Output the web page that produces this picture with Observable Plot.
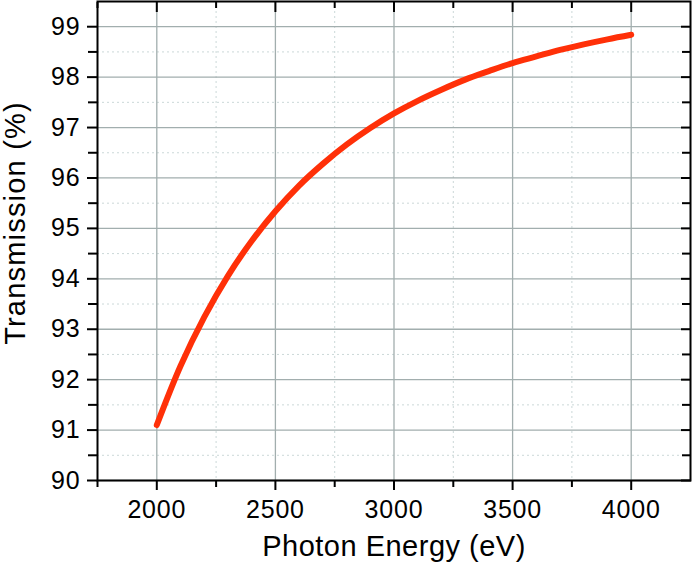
<!DOCTYPE html>
<html>
<head>
<meta charset="utf-8">
<script src="https://cdn.jsdelivr.net/npm/d3@7"></script>
<script src="https://cdn.jsdelivr.net/npm/@observablehq/plot@0.6"></script>
<style>
  html, body { margin: 0; padding: 0; background: #fff; }
  svg { display: block; }
  g[aria-label="x-axis tick label"] text, g[aria-label="y-axis tick label"] text { letter-spacing: 0.8px; }
  .xtitle text { letter-spacing: 0.5px; }
  .ytitle text { letter-spacing: 1.2px; }
</style>
</head>
<body>
<div id="chart"></div>
<script>
// Data
const energy = [2000, 2100, 2200, 2300, 2400, 2500, 2600, 2700, 2800, 2900, 3000,
                3100, 3200, 3300, 3400, 3500, 3600, 3700, 3800, 3900, 4000];
const transmission = [91.10, 92.27, 93.24, 94.06, 94.75, 95.34, 95.85, 96.28, 96.66, 96.99, 97.28,
                      97.53, 97.75, 97.95, 98.12, 98.28, 98.41, 98.54, 98.65, 98.75, 98.84];
const xMajorTicks = [2000, 2500, 3000, 3500, 4000];
const xMinorTicks = [1750, 2250, 2750, 3250, 3750];
const yMajorTicks = [90, 91, 92, 93, 94, 95, 96, 97, 98, 99];
const yMinorTicks = [90.5, 91.5, 92.5, 93.5, 94.5, 95.5, 96.5, 97.5, 98.5];
const xTitle = "Photon Energy (eV)";
const yTitle = "Transmission (%)";

const data = energy.map((e, i) => ({energy: e, transmission: transmission[i]}));

const majorGrid = "#a2aeae";
const minorGrid = "#cbd8d8";

const chart = Plot.plot({
  width: 692,
  height: 569,
  marginLeft: 97,
  marginRight: 2,
  marginTop: 1,
  marginBottom: 89,
  style: {fontFamily: "'Liberation Sans', Arial, sans-serif", color: "#000", background: "#fff"},
  x: {domain: [1750, 4250]},
  y: {domain: [90, 99.5]},
  marks: [
    Plot.gridX(xMinorTicks, {stroke: minorGrid, strokeOpacity: 1, strokeDasharray: "2,3"}),
    Plot.gridY(yMinorTicks, {stroke: minorGrid, strokeOpacity: 1, strokeDasharray: "2,3"}),
    Plot.gridX(xMajorTicks, {stroke: majorGrid, strokeOpacity: 1, strokeWidth: 1.3}),
    Plot.gridY(yMajorTicks, {stroke: majorGrid, strokeOpacity: 1, strokeWidth: 1.3}),
    Plot.line(data, {x: "energy", y: "transmission", stroke: "#ff3008", strokeWidth: 6,
                     curve: "catmull-rom", strokeLinecap: "round"}),
    // bottom axis
    Plot.axisX(xMajorTicks, {anchor: "bottom", tickSize: 10, tickPadding: 10, strokeWidth: 2,
                             fontSize: 25, tickFormat: d => String(d), label: null}),
    Plot.axisX(xMinorTicks, {anchor: "bottom", tickSize: 7, strokeWidth: 2, tickFormat: () => "", label: null}),
    // top axis (inward)
    Plot.axisX(xMajorTicks, {anchor: "top", tickSize: 10, dy: 10, strokeWidth: 2, tickFormat: () => "", label: null}),
    Plot.axisX(xMinorTicks, {anchor: "top", tickSize: 6, dy: 6, strokeWidth: 2, tickFormat: () => "", label: null}),
    // left axis
    Plot.axisY(yMajorTicks, {anchor: "left", tickSize: 10, tickPadding: 7, strokeWidth: 2,
                             fontSize: 25, tickFormat: d => String(d), label: null}),
    Plot.axisY(yMinorTicks, {anchor: "left", tickSize: 9, strokeWidth: 2, tickFormat: () => "", label: null}),
    // right axis (inward)
    Plot.axisY(yMajorTicks, {anchor: "right", tickSize: 10, dx: -10, strokeWidth: 2, tickFormat: () => "", label: null}),
    Plot.axisY(yMinorTicks, {anchor: "right", tickSize: 9, dx: -9, strokeWidth: 2, tickFormat: () => "", label: null}),
    Plot.frame({stroke: "#000", strokeWidth: 2}),
    Plot.text([xTitle], {text: d => d, frameAnchor: "bottom", textAnchor: "middle", dy: 75,
                         fontSize: 29, fill: "#000", className: "xtitle"}),
    Plot.text([yTitle], {text: d => d, frameAnchor: "left", textAnchor: "middle", dx: -82, dy: -18,
                         rotate: -90, fontSize: 29, fill: "#000", className: "ytitle"})
  ]
});
document.getElementById("chart").appendChild(chart);
</script>
</body>
</html>
